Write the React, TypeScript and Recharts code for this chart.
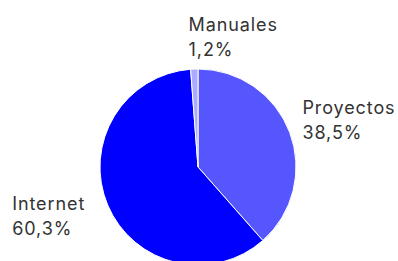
import { Cell, Pie, PieChart } from 'recharts';

const categories = ['Proyectos', 'Internet', 'Manuales'];
const shares = [38.5, 60.3, 1.2];
const colors = ['#5656ff', '#0000ff', '#aaaaff'];

const data = categories.map((name, i) => ({ name, value: shares[i] }));

const RAD = Math.PI / 180;

function renderLabel(props: any) {
  const { cx, cy, midAngle, outerRadius, index } = props;
  const r = outerRadius + 19;
  const cos = Math.cos(-midAngle * RAD);
  const sin = Math.sin(-midAngle * RAD);
  const x = cx + r * cos - 5;
  const y = cy + r * sin + sin * 12 - 1;
  const alignRight = cos < -0.2;
  const name = categories[index];
  const pct = shares[index].toFixed(1).replace('.', ',') + '%';
  return (
    <foreignObject x={x - 200} y={y - 100} width={400} height={200} style={{ overflow: 'visible' }}>
      <div style={{ position: 'relative', width: 400, height: 200 }}>
        <div
          style={{
            position: 'absolute',
            left: 200,
            top: 100,
            transform: `translate(${alignRight ? '-100%' : '0'}, -50%)`,
            whiteSpace: 'nowrap',
            textAlign: 'left',
            fontFamily: 'Inter, sans-serif',
            fontSize: 18,
            letterSpacing: 0.9,
            lineHeight: '25px',
            color: '#333333',
          }}
        >
          <div>{name}</div>
          <div>{pct}</div>
        </div>
      </div>
    </foreignObject>
  );
}

export default function App() {
  return (
    <div style={{ width: 398, height: 261, background: '#fff' }}>
      <style>{`body{margin:0}`}</style>
      <PieChart width={398} height={261} margin={{ top: 0, right: 0, bottom: 0, left: 0 }}>
        <Pie
          data={data}
          dataKey="value"
          nameKey="name"
          cx={198}
          cy={167}
          outerRadius={98}
          startAngle={90}
          endAngle={-270}
          stroke="#ffffff"
          strokeWidth={1}
          labelLine={false}
          label={renderLabel}
          isAnimationActive={false}
        >
          {data.map((d, i) => (
            <Cell key={d.name} fill={colors[i]} />
          ))}
        </Pie>
      </PieChart>
    </div>
  );
}
